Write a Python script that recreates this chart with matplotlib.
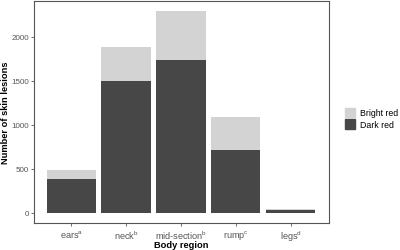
import numpy as np
import matplotlib.pyplot as plt
from matplotlib.patches import Patch

plt.rcParams['font.family'] = ['Liberation Sans', 'DejaVu Sans']
plt.rcParams['mathtext.fontset'] = 'custom'
plt.rcParams['mathtext.rm'] = 'Liberation Sans'
plt.rcParams['mathtext.it'] = 'Liberation Sans'

regions = ['ears$^{a}$', 'neck$^{b}$', 'mid-section$^{b}$', 'rump$^{c}$', 'legs$^{d}$']
dark_red = [386, 1500, 1742, 716, 38]
bright_red = [104, 390, 558, 374, 7]

fig = plt.figure(figsize=(4, 2.51), dpi=100)
ax = fig.add_axes([0.085, 0.108, 0.7375, 0.884])

x = np.arange(1, len(regions) + 1)
ax.bar(x, dark_red, width=0.9, color='#474747')
ax.bar(x, bright_red, width=0.9, bottom=dark_red, color='#d3d3d3')

ax.set_xlim(0.32, 5.70)
ax.set_ylim(-114, 2409)
ax.set_yticks([0, 500, 1000, 1500, 2000])
ax.set_xticks(x)
ax.set_xticklabels(regions)
ax.tick_params(colors='#555555', length=2, width=0.6, pad=1.5)
ax.tick_params(axis='y', labelsize=5.8)
ax.tick_params(axis='x', labelsize=6.6, pad=2)
for s in ax.spines.values():
    s.set_color('#555555')
    s.set_linewidth(0.8)

ax.set_xlabel('Body region', fontsize=6.7, fontweight='bold')
ax.set_ylabel('Number of skin lesions', fontsize=6.7, fontweight='bold')
ax.xaxis.set_label_coords(0.5, -0.077)
ax.yaxis.set_label_coords(-0.082, 0.5)

handles = [Patch(color='#d3d3d3', label='Bright red'),
           Patch(color='#474747', label='Dark red')]
fig.legend(handles=handles, loc='center left', bbox_to_anchor=(0.853, 0.525),
           frameon=False, fontsize=6.3, handlelength=1.15, handleheight=1.3,
           handletextpad=0.55, labelspacing=0.2, borderaxespad=0)

fig.savefig('out.png', dpi=100)
